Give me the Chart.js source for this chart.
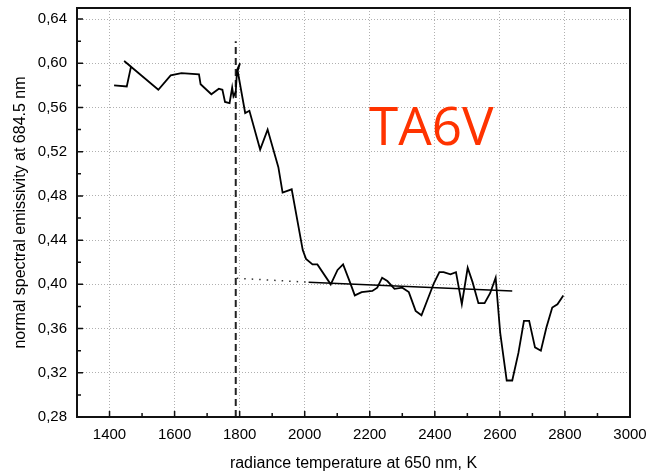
<!DOCTYPE html>
<html>
<head>
<meta charset="utf-8">
<script src="https://cdn.jsdelivr.net/npm/chart.js@4"></script>
<style>
  body { margin: 0; background: #fff; }
  canvas { display: block; }
</style>
</head>
<body>
<canvas id="emissivityChart" width="649" height="476"></canvas>
<script>
// measured curve: radiance temperature (K) vs normal spectral emissivity
const curveT = [1414, 1453, 1466, 1445, 1550, 1588, 1621, 1675, 1680, 1713, 1736, 1747, 1755, 1769,
    1777, 1781, 1788, 1792, 1801, 1794, 1817, 1830, 1863, 1886, 1919, 1932, 1960, 1994, 2004, 2024,
    2039, 2080, 2101, 2118, 2139, 2154, 2175, 2208, 2223, 2238, 2254, 2276, 2300, 2320, 2341, 2359,
    2397, 2414, 2427, 2448, 2465, 2483, 2501, 2516, 2534, 2553, 2570, 2587, 2601, 2621, 2638, 2657,
    2674, 2690, 2708, 2726, 2743, 2761, 2777, 2795];
const curveE = [0.580, 0.579, 0.597, 0.602, 0.576, 0.589, 0.591, 0.590, 0.581, 0.572, 0.577, 0.576, 0.565, 0.564,
    0.578, 0.570, 0.574, 0.594, 0.600, 0.593, 0.555, 0.557, 0.522, 0.540, 0.506, 0.483, 0.486, 0.431, 0.423, 0.418,
    0.418, 0.400, 0.413, 0.418, 0.402, 0.390, 0.393, 0.394, 0.397, 0.406, 0.403, 0.396, 0.397, 0.393, 0.376, 0.372,
    0.401, 0.411, 0.411, 0.409, 0.411, 0.382, 0.415, 0.402, 0.383, 0.383, 0.392, 0.406, 0.356, 0.313, 0.313, 0.338,
    0.367, 0.367, 0.343, 0.340, 0.361, 0.379, 0.382, 0.390];

// linear fit of the liquid part and its dotted extension back to the melting point
const fitT = [2012, 2638];
const fitE = [0.402, 0.394];
const extT = [1791, 2005];
const extE = [0.4055, 0.402];

// melting point marker
const meltT = [1788, 1788];
const meltE = [0.28, 0.62];

const xTicks = [1400, 1600, 1800, 2000, 2200, 2400, 2600, 2800, 3000];
const yTicks = [0.28, 0.32, 0.36, 0.40, 0.44, 0.48, 0.52, 0.56, 0.60, 0.64];

const sampleName = 'TA6V';
const labelT = 2198, labelE = 0.526;

function toPoints(xs, ys) {
    return xs.map((x, i) => ({ x: x, y: ys[i] }));
}

// frame + inward ticks (major and minor), drawn over the data like in the original plot
const framePlugin = {
    id: 'frame',
    afterDatasetsDraw(chart) {
        const ctx = chart.ctx;
        const a = chart.chartArea;
        const xs = chart.scales.x, ys = chart.scales.y;
        ctx.save();

        // sample label
        ctx.fillStyle = '#ff3300';
        ctx.font = '53px "Open Sans"';
        ctx.textBaseline = 'alphabetic';
        ctx.fillText(sampleName, xs.getPixelForValue(labelT), ys.getPixelForValue(labelE));

        ctx.strokeStyle = '#111';
        ctx.lineWidth = 2;
        ctx.strokeRect(a.left, a.top, a.right - a.left, a.bottom - a.top);

        ctx.lineWidth = 1.5;
        ctx.beginPath();
        xTicks.forEach(v => {
            const px = xs.getPixelForValue(v);
            ctx.moveTo(px, a.bottom); ctx.lineTo(px, a.bottom - 6);
            const mid = v - (xTicks[1] - xTicks[0]) / 2;
            if (mid > xs.min) {
                const pm = xs.getPixelForValue(mid);
                ctx.moveTo(pm, a.bottom); ctx.lineTo(pm, a.bottom - 4);
            }
        });
        yTicks.forEach(v => {
            const py = ys.getPixelForValue(v);
            ctx.moveTo(a.left, py); ctx.lineTo(a.left + 6, py);
            const mid = v + (yTicks[1] - yTicks[0]) / 2;
            if (mid < ys.max) {
                const pm = ys.getPixelForValue(mid);
                ctx.moveTo(a.left, pm); ctx.lineTo(a.left + 4, pm);
            }
        });
        ctx.stroke();
        ctx.restore();
    }
};

const ctx = document.getElementById('emissivityChart').getContext('2d');
new Chart(ctx, {
    type: 'line',
    data: {
        datasets: [
            {
                data: toPoints(curveT, curveE),
                borderColor: '#000',
                borderWidth: 1.8,
                pointRadius: 0,
                tension: 0
            },
            {
                data: toPoints(fitT, fitE),
                borderColor: '#000',
                borderWidth: 1.5,
                pointRadius: 0
            },
            {
                data: toPoints(extT, extE),
                borderColor: '#333',
                borderWidth: 1.5,
                borderDash: [1.5, 6],
                pointRadius: 0
            },
            {
                data: toPoints(meltT, meltE),
                borderColor: '#222',
                borderWidth: 2,
                borderDash: [7, 4],
                pointRadius: 0
            }
        ]
    },
    options: {
        responsive: false,
        animation: false,
        layout: { padding: { top: 8, right: 19, left: 0, bottom: 0 } },
        plugins: {
            legend: { display: false },
            tooltip: { enabled: false }
        },
        scales: {
            x: {
                type: 'linear',
                min: 1300,
                max: 3000,
                afterBuildTicks: scale => { scale.ticks = xTicks.map(v => ({ value: v })); },
                afterFit: scale => {
                    scale.height = 59;
                    scale.paddingLeft = 0;
                    scale.paddingRight = 0;
                },
                grid: { color: '#b0b0b0', lineWidth: 1, drawTicks: false },
                border: { display: false, dash: [1, 2] },
                ticks: {
                    padding: 9,
                    color: '#000',
                    font: { family: '"Liberation Sans", Arial', size: 15 },
                    callback: v => String(v)
                },
                title: {
                    display: true,
                    text: 'radiance temperature at 650 nm, K',
                    color: '#000',
                    font: { family: '"Liberation Sans", Arial', size: 16 },
                    padding: { bottom: 3, top: 0 }
                }
            },
            y: {
                min: 0.28,
                max: 0.65,
                afterBuildTicks: scale => { scale.ticks = yTicks.map(v => ({ value: v })); },
                afterFit: scale => {
                    scale.width = 77;
                    scale.paddingTop = 0;
                    scale.paddingBottom = 0;
                },
                grid: { color: '#b0b0b0', lineWidth: 1, drawTicks: false },
                border: { display: false, dash: [1, 2] },
                ticks: {
                    padding: 10,
                    color: '#000',
                    font: { family: '"Liberation Sans", Arial', size: 15 },
                    callback: v => v.toFixed(2).replace('.', ',')
                },
                title: {
                    display: true,
                    text: 'normal spectral emissivity at 684.5 nm',
                    color: '#000',
                    font: { family: '"Liberation Sans", Arial', size: 16 },
                    padding: { top: 11, bottom: 0 }
                }
            }
        }
    },
    plugins: [framePlugin]
});
</script>
</body>
</html>
